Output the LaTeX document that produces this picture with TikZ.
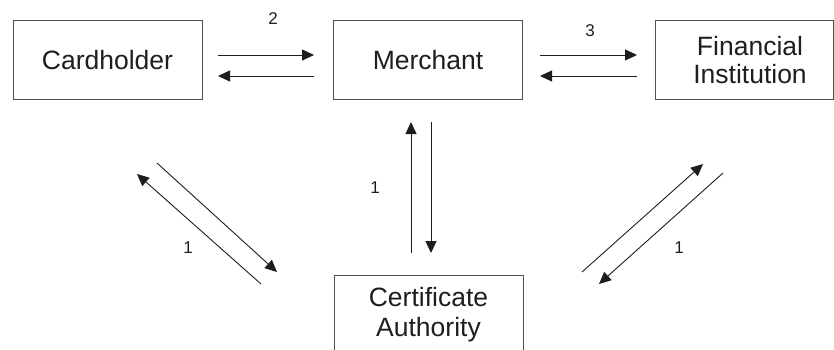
\documentclass[tikz,border=0pt]{standalone}
\usepackage{fontspec}
\setmainfont{Liberation Sans}
\usetikzlibrary{arrows.meta}
\definecolor{ink}{HTML}{1E1E1E}
\definecolor{frame}{HTML}{505050}
\begin{document}
\begin{tikzpicture}[x=1pt,y=-1pt,
  party/.style={draw=frame,line width=1pt,rectangle,minimum width=189pt,minimum height=79pt,
    inner sep=0pt,align=center,text=ink,font=\fontsize{26.5}{30}\selectfont},
  partytext/.style={inner sep=0pt,align=center,text=ink,font=\fontsize{26.5}{28.5}\selectfont},
  flow/.style={draw=ink,line width=0.9pt,-{Triangle[length=12pt,width=11pt]}},
  line/.style={draw=ink,line width=0.9pt},
  num/.style={inner sep=0pt,text=ink,font=\fontsize{17}{17}\selectfont}]
\useasboundingbox (0,0) rectangle (834,350);

% parties
\node[party] (card) at (107.5,60.5) {Cardholder};
\node[party] (merch) at (428,60.5) {Merchant};
\node[party,minimum width=178pt] (fin) at (744,60.5) {};
\node[partytext] (fintext) at (750,60) {Financial\\Institution};
\node[party] (ca) at (428.5,314.5) {Certificate\\Authority};

% arrow end points
\coordinate (a1s) at (218,55);  \coordinate (a1e) at (314,55);
\coordinate (a2s) at (314,76);  \coordinate (a2e) at (218,76);
\coordinate (b1s) at (540,55);  \coordinate (b1e) at (637,55);
\coordinate (b2s) at (637,76);  \coordinate (b2e) at (540,76);
\coordinate (v1s) at (411,253); \coordinate (v1e) at (411,122);
\coordinate (v2s) at (431,122); \coordinate (v2e) at (431,253);
\coordinate (l1s) at (261,284); \coordinate (l1e) at (137,174);
\coordinate (l2s) at (157,163); \coordinate (l2e) at (277,272);
\coordinate (r1s) at (582,272); \coordinate (r1e) at (703,164);
\coordinate (r2s) at (723,173); \coordinate (r2e) at (599,284);

% Cardholder <-> Merchant
\draw[flow] (a1s) -- (a1e);
\draw[flow] (a2s) -- (a2e);
\node[num] (n2) at (273,19) {2};

% Merchant <-> Financial Institution
\draw[flow] (b1s) -- (b1e);
\draw[flow] (b2s) -- (b2e);
\node[num] (n3) at (590,31) {3};

% Merchant <-> Certificate Authority
\draw[flow] (v1s) -- (v1e);
\draw[flow] (v2s) -- (v2e);
\node[num] (nv) at (375,188) {1};

% Cardholder <-> Certificate Authority
\draw[flow] (l1s) -- (l1e);
\draw[flow] (l2s) -- (l2e);
\node[num] (nl) at (188,248) {1};

% Financial Institution <-> Certificate Authority
\draw[flow] (r1s) -- (r1e);
\draw[flow] (r2s) -- (r2e);
\node[num] (nr) at (679,248) {1};
\end{tikzpicture}
\end{document}
